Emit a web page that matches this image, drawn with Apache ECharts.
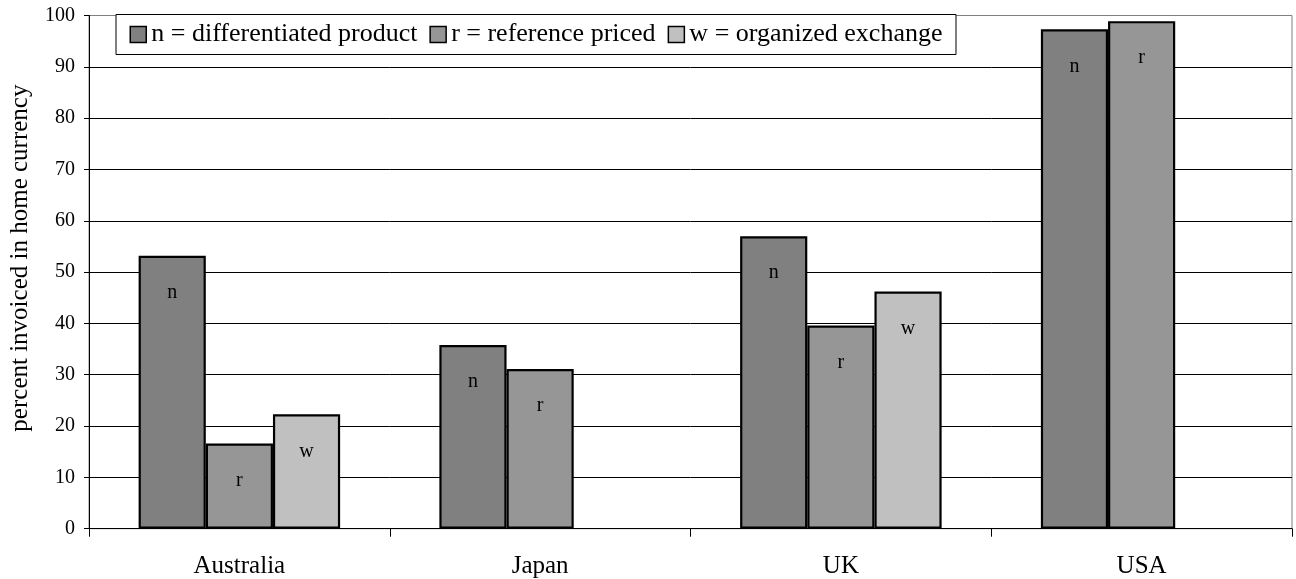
<!DOCTYPE html>
<html>
<head>
<meta charset="utf-8">
<script src="https://cdn.jsdelivr.net/npm/echarts@6/dist/echarts.min.js"></script>
<style>
html,body{margin:0;padding:0;background:#fff;}
#chart{width:1296px;height:579px;}
</style>
</head>
<body>
<div id="chart"></div>
<script>
const categories = ['Australia', 'Japan', 'UK', 'USA'];
const seriesNames = ['n = differentiated product', 'r = reference priced', 'w = organized exchange'];
const seriesLetters = ['n', 'r', 'w'];
const nValues = [53.2, 35.8, 57.0, 97.3];
const rValues = [16.6, 31.1, 39.6, 98.9];
const wValues = [22.3, null, 46.2, null];
const yTicks = [0, 10, 20, 30, 40, 50, 60, 70, 80, 90, 100];

const colors = ['#808080', '#969696', '#C0C0C0'];
const FONT = '"Liberation Serif", "Times New Roman", serif';
const valueSets = [nValues, rValues, wValues];

const chart = echarts.init(document.getElementById('chart'));
const gridColors = yTicks.map((t, i) => i === yTicks.length - 1 ? '#808080' : '#000');

chart.setOption({
  animation: false,
  textStyle: { fontFamily: FONT, color: '#000' },
  grid: { left: 88.5, right: 4, top: 15.5, bottom: 50.3, show: true, borderColor: '#808080', borderWidth: 1, backgroundColor: 'transparent' },
  legend: {
    left: 116, top: 14.5,
    padding: [7, 13.5, 7, 13.5],
    itemWidth: 16, itemHeight: 16, itemGap: 12,
    borderColor: '#000', borderWidth: 1,
    backgroundColor: '#fff',
    textStyle: { fontFamily: FONT, fontSize: 26, color: '#000' },
    data: seriesNames.map((name, i) => ({ name, icon: 'rect', itemStyle: { color: colors[i], borderColor: '#000', borderWidth: 1.5 } }))
  },
  xAxis: {
    type: 'category',
    data: categories,
    axisLine: { lineStyle: { color: '#000', width: 1 } },
    axisTick: { show: true, length: 8, lineStyle: { color: '#000' } },
    axisLabel: { fontFamily: FONT, fontSize: 25, color: '#000', margin: 25 }
  },
  yAxis: {
    type: 'value', min: 0, max: 100, interval: 10,
    name: 'percent invoiced in home currency',
    nameLocation: 'middle', nameGap: 56,
    nameTextStyle: { fontFamily: FONT, fontSize: 25, color: '#000', padding: [0, 0, 0, 28] },
    axisLine: { show: true, lineStyle: { color: '#000', width: 1 } },
    axisTick: { show: true, length: 5, lineStyle: { color: '#000' } },
    axisLabel: { fontFamily: FONT, fontSize: 20, color: '#000', margin: 14 },
    splitLine: { show: true, lineStyle: { color: gridColors, width: 1 } }
  },
  series: seriesNames.map((name, i) => ({
    name,
    type: 'bar',
    data: valueSets[i].map(v => v === null ? '-' : v),
    barGap: '0%',
    barCategoryGap: '33%',
    itemStyle: { color: colors[i], borderColor: '#000', borderWidth: 2.2 },
    label: {
      show: true, position: 'insideTop', distance: 27,
      formatter: () => seriesLetters[i],
      fontFamily: FONT, fontSize: 20, color: '#000'
    }
  }))
});
</script>
</body>
</html>
